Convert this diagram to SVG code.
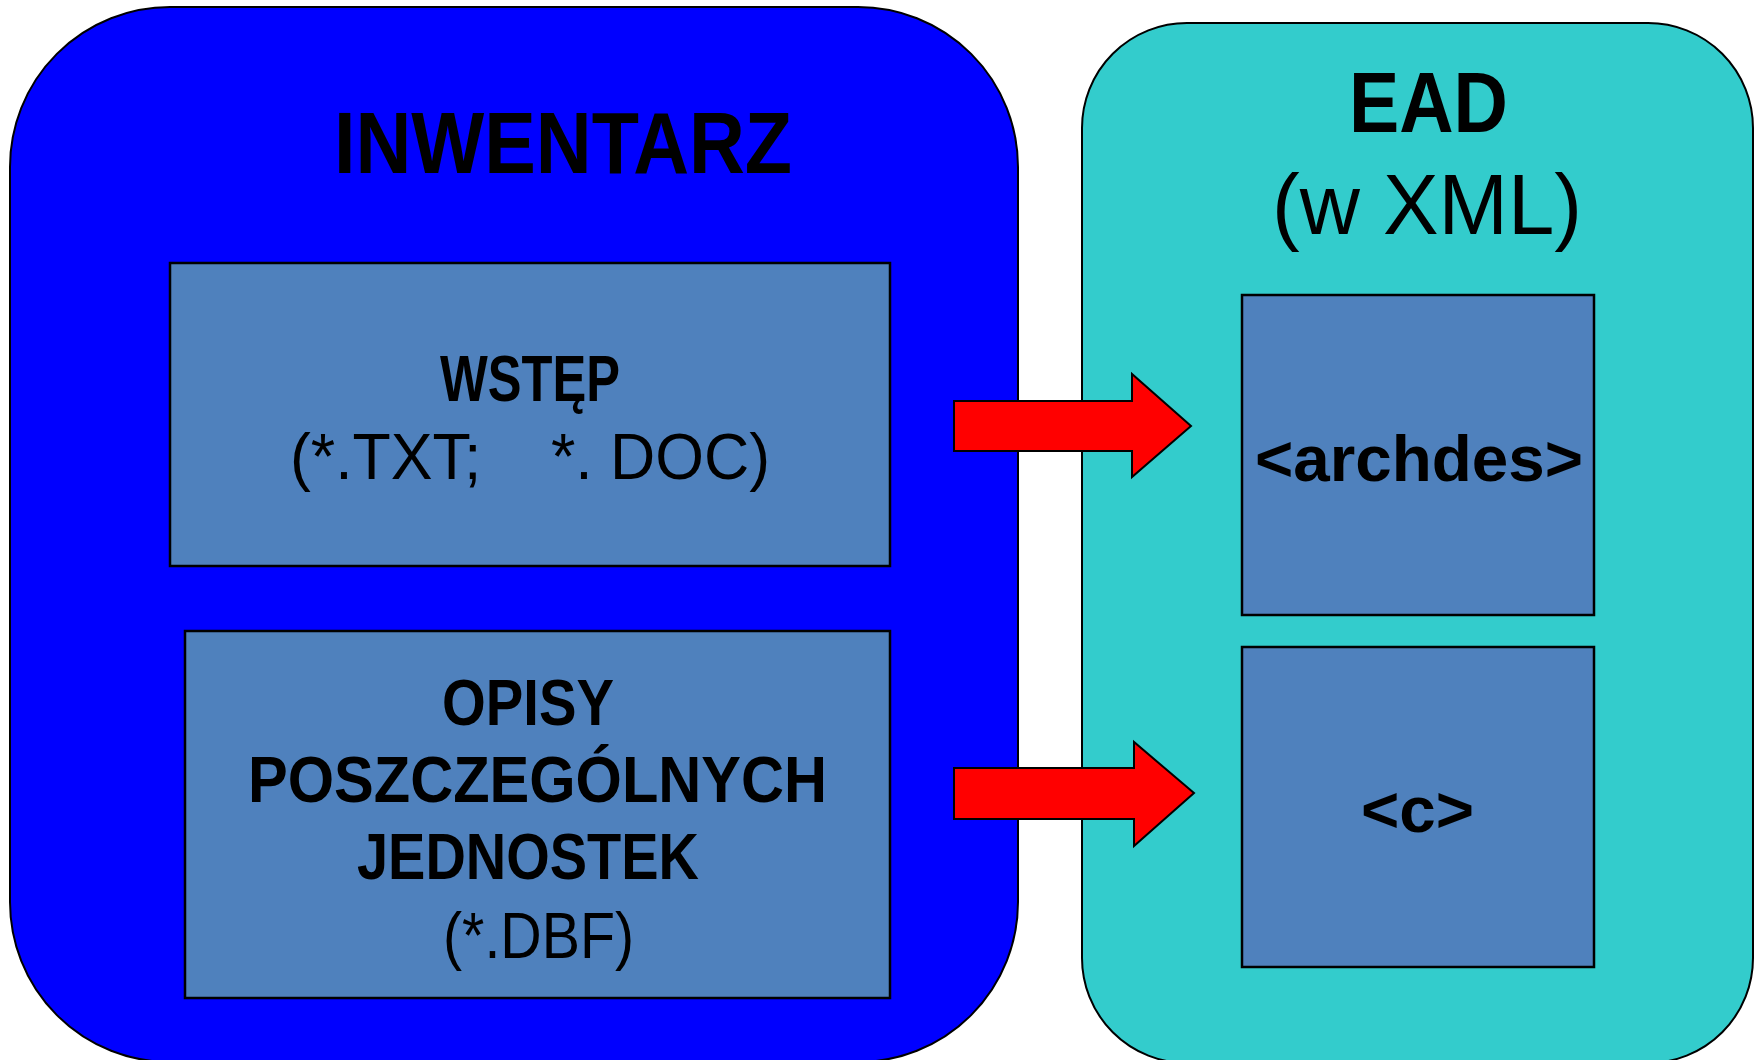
<svg xmlns="http://www.w3.org/2000/svg" width="1762" height="1060" viewBox="0 0 1762 1060">
<style>
.panel{stroke:#000;stroke-width:2}
.box{fill:#4F81BD;stroke:#000;stroke-width:2.5}
.arrow{fill:#FF0000;stroke:#000;stroke-width:2;stroke-linejoin:miter}
text{font-family:"Liberation Sans",Arial,sans-serif;fill:#000}
.b{font-weight:bold}
.r{font-weight:normal}
</style>
<rect width="1762" height="1060" fill="#fff"/>
<g id="inwentarz">
<rect class="panel" x="10" y="7" width="1008" height="1055" rx="160" ry="160" fill="#0000FF"/>
<text class="b" x="334" y="173" font-size="88" textLength="458" lengthAdjust="spacingAndGlyphs">INWENTARZ</text>
</g>
<g id="ead">
<rect class="panel" x="1082" y="23" width="671" height="1040" rx="105" ry="105" fill="#33CCCC"/>
<text class="b" x="1349" y="132" font-size="85" textLength="159" lengthAdjust="spacingAndGlyphs">EAD</text>
<text class="r" x="1272" y="234" font-size="86" textLength="310" lengthAdjust="spacingAndGlyphs">(w XML)</text>
</g>
<g id="wstep">
<rect class="box" x="170" y="263" width="720" height="303"/>
<text class="b" x="440" y="401" font-size="64" textLength="180" lengthAdjust="spacingAndGlyphs">WSTĘP</text>
<text class="r" x="290" y="479" font-size="64" textLength="480" lengthAdjust="spacingAndGlyphs" xml:space="preserve">(*.TXT;    *. DOC)</text>
</g>
<g id="opisy">
<rect class="box" x="185" y="631" width="705" height="367"/>
<text class="b" x="442" y="725" font-size="64" textLength="172" lengthAdjust="spacingAndGlyphs">OPISY</text>
<text class="b" x="248" y="801.5" font-size="64" textLength="579" lengthAdjust="spacingAndGlyphs">POSZCZEGÓLNYCH</text>
<text class="b" x="357" y="879" font-size="64" textLength="342" lengthAdjust="spacingAndGlyphs">JEDNOSTEK</text>
<text class="r" x="443" y="958" font-size="64" textLength="191" lengthAdjust="spacingAndGlyphs">(*.DBF)</text>
</g>
<g id="archdes">
<rect class="box" x="1242" y="295" width="352" height="320"/>
<text class="b" x="1255" y="480.5" font-size="64" textLength="328" lengthAdjust="spacingAndGlyphs">&lt;archdes&gt;</text>
</g>
<g id="c">
<rect class="box" x="1242" y="647" width="352" height="320"/>
<text class="b" x="1361" y="832" font-size="64" textLength="113" lengthAdjust="spacingAndGlyphs">&lt;c&gt;</text>
</g>
<g id="connectors">
<polygon class="arrow" points="954,401 1132,401 1132,374 1191,426 1132,477 1132,451 954,451"/>
<polygon class="arrow" points="954,768 1134,768 1134,742 1194,793 1134,846 1134,819 954,819"/>
</g>
</svg>
